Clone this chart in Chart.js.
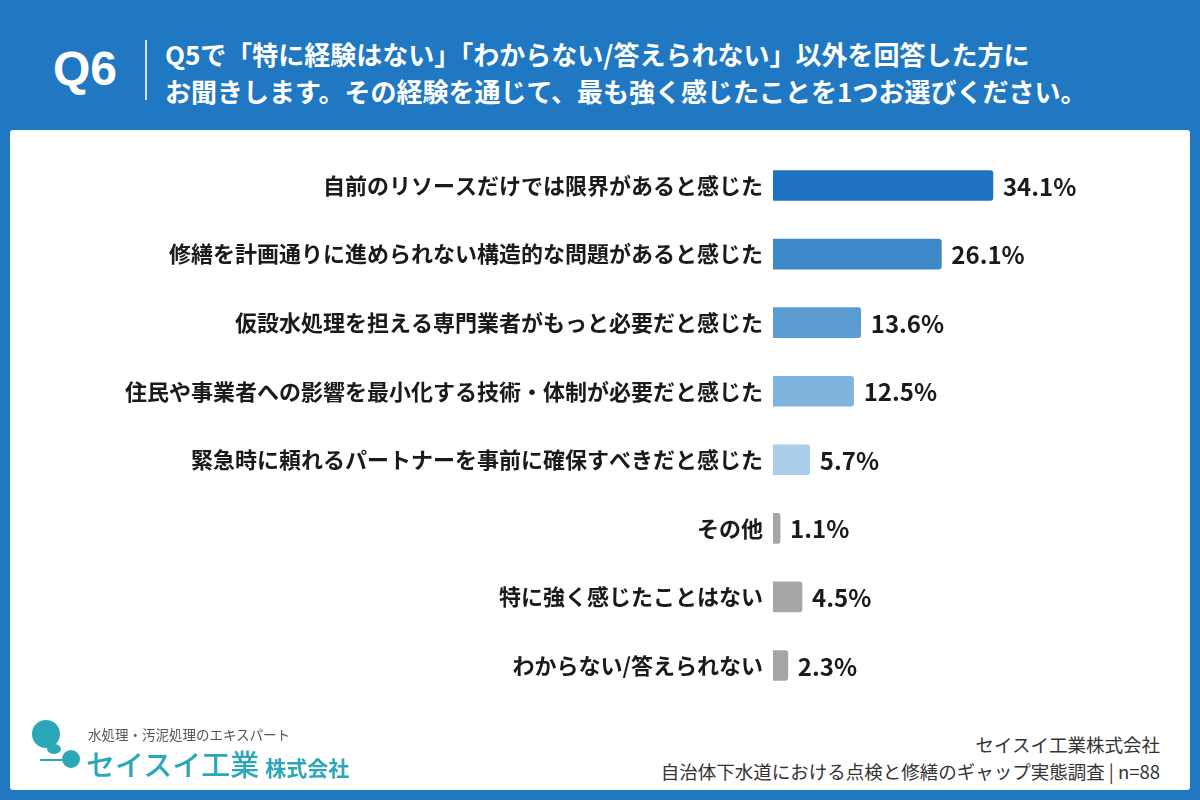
<!DOCTYPE html>
<html lang="ja">
<head>
<meta charset="utf-8">
<script src="https://cdn.jsdelivr.net/npm/chart.js@4"></script>
<style>
  html, body { margin: 0; padding: 0; }
  body { width: 1200px; height: 800px; background: #1f78c1; position: relative; overflow: hidden;
         font-family: "Noto Sans CJK JP", "Noto Sans", sans-serif; }
  .panel { position: absolute; left: 10px; top: 130px; width: 1180px; height: 660px; background: #fff; border-radius: 3px; }
  .q { position: absolute; left: 53px; top: 41px; color: #fff; font: bold 48px "Liberation Sans", Arial, sans-serif; }
  .sep { position: absolute; left: 145px; top: 40px; width: 2px; height: 60px; background: #cfe2f3; }
  .title { position: absolute; left: 165px; top: 35px; color: #fff; font-weight: bold; font-size: 26px; line-height: 37px; }
  #chart { position: absolute; left: 0; top: 128px; }
  .logo-sub { position: absolute; left: 88px; top: 724px; font-size: 13.5px; color: #555; }
  .logo-main { position: absolute; left: 86px; top: 742px; font-size: 29px; color: #2aa7b8; font-weight: 500; }
  .logo-main span { font-size: 21px; font-weight: bold; margin-left: 6px; }
  .dot1 { position: absolute; left: 32px; top: 720px; width: 28px; height: 28px; border-radius: 50%; background: #2aa7b8; }
  .dot2 { position: absolute; left: 62px; top: 750px; width: 18px; height: 18px; border-radius: 50%; background: #2aa7b8; }
  .dot3 { position: absolute; left: 47px; top: 744px; width: 14px; height: 10px; border-radius: 50%; background: #2aa7b8; }
  .bar0 { position: absolute; left: 40px; top: 759px; width: 30px; height: 2px; background: #2aa7b8; }
  .foot { position: absolute; right: 40px; top: 731px; text-align: right; font-size: 18.5px; line-height: 27px; color: #333; }
</style>
</head>
<body>
<div class="panel"></div>
<div class="q">Q6</div>
<div class="sep"></div>
<div class="title">Q5で「特に経験はない」「わからない/答えられない」以外を回答した方に<br>お聞きします。その経験を通じて、最も強く感じたことを1つお選びください。</div>
<canvas id="chart" width="1200" height="595"></canvas>
<div class="dot1"></div><div class="dot3"></div><div class="dot2"></div><div class="bar0"></div>
<div class="logo-sub">水処理・汚泥処理のエキスパート</div>
<div class="logo-main">セイスイ工業<span>株式会社</span></div>
<div class="foot">セイスイ工業株式会社<br>自治体下水道における点検と修繕のギャップ実態調査 | n=88</div>
<script>
const categories = [
  '自前のリソースだけでは限界があると感じた',
  '修繕を計画通りに進められない構造的な問題があると感じた',
  '仮設水処理を担える専門業者がもっと必要だと感じた',
  '住民や事業者への影響を最小化する技術・体制が必要だと感じた',
  '緊急時に頼れるパートナーを事前に確保すべきだと感じた',
  'その他',
  '特に強く感じたことはない',
  'わからない/答えられない'
];
const values = [34.1, 26.1, 13.6, 12.5, 5.7, 1.1, 4.5, 2.3];
const barColors = ['#2073c2', '#3d89c8', '#5b9cd2', '#7fb4df', '#a9cdea', '#a6a6a6', '#a6a6a6', '#a6a6a6'];

const valueLabels = {
  id: 'valueLabels',
  afterDatasetsDraw(chart) {
    const ctx = chart.ctx;
    const meta = chart.getDatasetMeta(0);
    ctx.save();
    ctx.font = 'bold 24px "Noto Sans CJK JP", "Noto Sans", sans-serif';
    ctx.fillStyle = '#1a1a1a';
    ctx.textBaseline = 'middle';
    ctx.textAlign = 'left';
    meta.data.forEach((bar, i) => {
      ctx.fillText(values[i].toFixed(1) + '%', bar.x + 10, bar.y + 1);
    });
    ctx.restore();
  }
};

new Chart(document.getElementById('chart'), {
  type: 'bar',
  data: {
    labels: categories,
    datasets: [{
      data: values,
      backgroundColor: barColors,
      barThickness: 30,
      borderRadius: 3,
      borderSkipped: 'start'
    }]
  },
  options: {
    indexAxis: 'y',
    responsive: false,
    animation: false,
    layout: { padding: { top: 0, bottom: 0, right: 40 } },
    plugins: { legend: { display: false }, tooltip: { enabled: false } },
    scales: {
      x: { display: false, min: 0, max: 60 },
      y: {
        afterFit(s) { s.width = 773; },
        grid: { display: false, drawTicks: false },
        border: { display: false },
        ticks: {
          padding: 10,
          color: '#1a1a1a',
          font: { family: '"Noto Sans CJK JP", sans-serif', size: 22, weight: 'bold' }
        }
      }
    }
  },
  plugins: [valueLabels]
});
</script>
</body>
</html>
